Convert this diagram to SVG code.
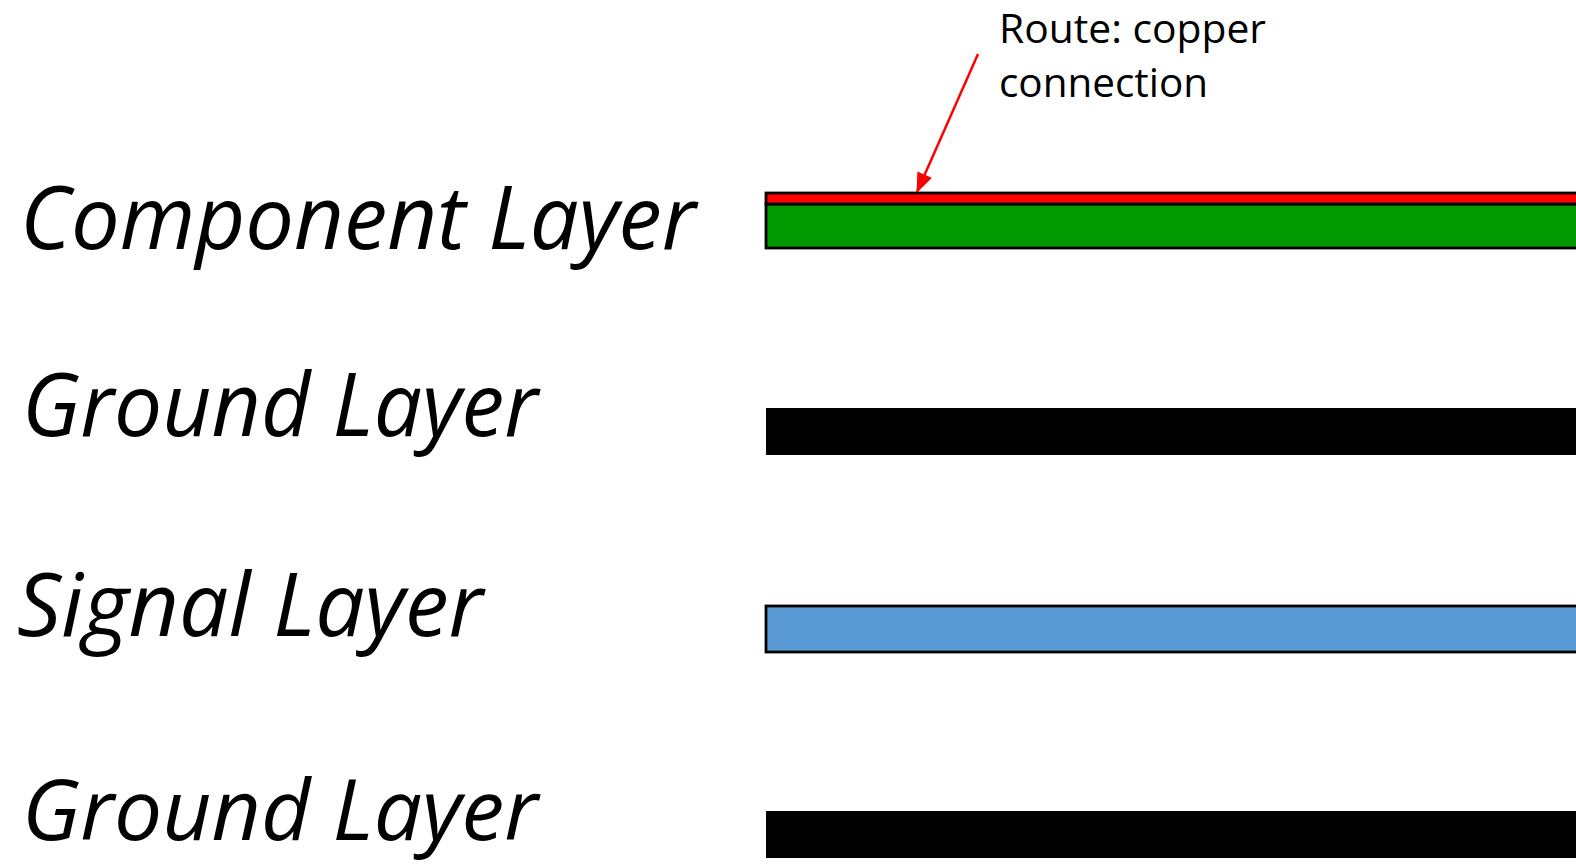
<svg xmlns="http://www.w3.org/2000/svg" width="1576" height="865" viewBox="0 0 1576 865">
  <defs>
    <style>
      .big { font-family: "Open Sans", "Liberation Sans", sans-serif; font-style: italic; font-size: 88px; fill: #000; }
      .note { font-family: "Open Sans", "Liberation Sans", sans-serif; font-size: 40px; fill: #000; }
      .bar { stroke: #000; stroke-width: 2.8; }
    </style>
    <marker id="arrow" markerUnits="userSpaceOnUse" markerWidth="20" markerHeight="16" viewBox="0 0 20 16" refX="19" refY="8" orient="auto">
      <path d="M0,0 L20,8 L0,16 Z" fill="#FF0000"/>
    </marker>
  </defs>
  <rect width="1576" height="865" fill="#fff"/>

  <g id="component-layer">
    <text class="big" x="20" y="249" textLength="676" lengthAdjust="spacingAndGlyphs">Component Layer</text>
    <rect class="bar" x="766" y="204" width="830" height="44" fill="#009900"/>
    <rect class="bar" x="766" y="193" width="830" height="11" fill="#FF0000"/>
  </g>

  <g id="ground-layer-1">
    <text class="big" x="22" y="436" textLength="516" lengthAdjust="spacingAndGlyphs">Ground Layer</text>
    <rect x="766" y="408" width="830" height="47" fill="#000"/>
  </g>

  <g id="signal-layer">
    <text class="big" x="17" y="636" textLength="466" lengthAdjust="spacingAndGlyphs">Signal Layer</text>
    <rect class="bar" x="766" y="606" width="830" height="46" fill="#5B9BD5"/>
  </g>

  <g id="ground-layer-2">
    <text class="big" x="22" y="840" style="font-size:84px" textLength="516" lengthAdjust="spacingAndGlyphs">Ground Layer</text>
    <rect x="766" y="811" width="830" height="47" fill="#000"/>
  </g>

  <g id="route-label">
    <text class="note" x="999" y="43" textLength="267" lengthAdjust="spacingAndGlyphs">Route: copper</text>
    <text class="note" x="999" y="97" textLength="209" lengthAdjust="spacingAndGlyphs">connection</text>
  </g>

  <g id="connectors">
    <line x1="978" y1="54" x2="917" y2="192" stroke="#FF0000" stroke-width="2.5" marker-end="url(#arrow)"/>
  </g>
</svg>
